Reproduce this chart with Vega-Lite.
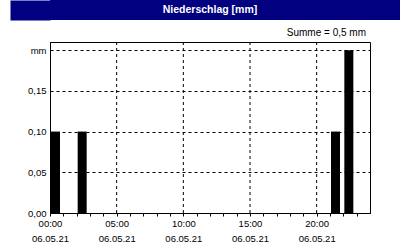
{
  "$schema": "https://vega.github.io/schema/vega-lite/v6.json",
  "background": "white",
  "padding": 0,
  "spacing": 7,
  "config": {
    "font": "Liberation Sans",
    "view": {"stroke": null},
    "axis": {"labelFont": "Liberation Sans", "labelColor": "black", "labelFontSize": 9.5, "domainColor": "black", "tickColor": "black", "gridColor": "black", "gridDash": [3, 3]}
  },
  "vconcat": [
    {
      "width": 360,
      "height": 20,
      "view": {"fill": "#000080", "stroke": null},
      "data": {"values": [{"label": "Niederschlag [mm]"}]},
      "mark": {"type": "text", "color": "white", "fontWeight": "bold", "fontSize": 10.5, "font": "Liberation Sans", "baseline": "middle", "align": "center", "dx": -20},
      "encoding": {
        "text": {"field": "label", "type": "nominal"},
        "y": {
          "datum": "Niederschlag [mm]", "type": "nominal",
          "axis": {"title": null, "labels": false, "domain": false, "grid": false, "ticks": true, "tickSize": 40, "tickWidth": 20, "tickColor": "#000080", "tickCap": "butt", "minExtent": 40, "maxExtent": 40}
        }
      }
    },
    {
      "width": 320,
      "height": 171,
      "view": {"stroke": "black", "strokeWidth": 1},
      "title": {"text": "Summe = 0,5 mm", "anchor": "end", "frame": "group", "fontSize": 10, "fontWeight": "normal", "color": "black", "offset": 4, "dx": -4, "font": "Liberation Sans"},
      "layer": [
        {
          "data": {"values": [
            {"start": "2021-05-06T05:00:00"},
            {"start": "2021-05-06T10:00:00"},
            {"start": "2021-05-06T15:00:00"},
            {"start": "2021-05-06T20:00:00"}
          ]},
          "mark": {"type": "rule", "color": "black", "strokeDash": [3, 3], "strokeWidth": 1},
          "encoding": {
            "x": {
              "field": "start", "type": "temporal",
              "scale": {"domain": ["2021-05-06T00:00:00", "2021-05-07T00:00:00"]},
              "axis": {
                "title": null,
                "values": [
                  {"year": 2021, "month": 5, "date": 6, "hours": 0}, {"year": 2021, "month": 5, "date": 6, "hours": 1},
                  {"year": 2021, "month": 5, "date": 6, "hours": 2}, {"year": 2021, "month": 5, "date": 6, "hours": 3},
                  {"year": 2021, "month": 5, "date": 6, "hours": 4}, {"year": 2021, "month": 5, "date": 6, "hours": 5},
                  {"year": 2021, "month": 5, "date": 6, "hours": 6}, {"year": 2021, "month": 5, "date": 6, "hours": 7},
                  {"year": 2021, "month": 5, "date": 6, "hours": 8}, {"year": 2021, "month": 5, "date": 6, "hours": 9},
                  {"year": 2021, "month": 5, "date": 6, "hours": 10}, {"year": 2021, "month": 5, "date": 6, "hours": 11},
                  {"year": 2021, "month": 5, "date": 6, "hours": 12}, {"year": 2021, "month": 5, "date": 6, "hours": 13},
                  {"year": 2021, "month": 5, "date": 6, "hours": 14}, {"year": 2021, "month": 5, "date": 6, "hours": 15},
                  {"year": 2021, "month": 5, "date": 6, "hours": 16}, {"year": 2021, "month": 5, "date": 6, "hours": 17},
                  {"year": 2021, "month": 5, "date": 6, "hours": 18}, {"year": 2021, "month": 5, "date": 6, "hours": 19},
                  {"year": 2021, "month": 5, "date": 6, "hours": 20}, {"year": 2021, "month": 5, "date": 6, "hours": 21},
                  {"year": 2021, "month": 5, "date": 6, "hours": 22}, {"year": 2021, "month": 5, "date": 6, "hours": 23}
                ],
                "tickSize": 3,
                "labelPadding": 2,
                "labelFlush": false,
                "labelOverlap": false,
                "labelLineHeight": 15,
                "labelExpr": "hours(datum.value) % 5 == 0 ? [timeFormat(datum.value, '%H:%M'), timeFormat(datum.value, '%d.%m.%y')] : ''",
                "grid": false
              }
            }
          }
        },
        {
          "data": {"values": [
            {"start": "2021-05-06T00:00:00", "end": "2021-05-06T00:45:00", "mm": 0.1},
            {"start": "2021-05-06T02:00:00", "end": "2021-05-06T02:45:00", "mm": 0.1},
            {"start": "2021-05-06T21:00:00", "end": "2021-05-06T21:45:00", "mm": 0.1},
            {"start": "2021-05-06T22:00:00", "end": "2021-05-06T22:45:00", "mm": 0.2}
          ]},
          "mark": {"type": "bar", "color": "black", "xOffset": 1},
          "encoding": {
            "x": {
              "field": "start", "type": "temporal",
              "scale": {"domain": ["2021-05-06T00:00:00", "2021-05-07T00:00:00"]},
              "axis": {
                "title": null,
                "values": [
                  {"year": 2021, "month": 5, "date": 6, "hours": 0}, {"year": 2021, "month": 5, "date": 6, "hours": 1},
                  {"year": 2021, "month": 5, "date": 6, "hours": 2}, {"year": 2021, "month": 5, "date": 6, "hours": 3},
                  {"year": 2021, "month": 5, "date": 6, "hours": 4}, {"year": 2021, "month": 5, "date": 6, "hours": 5},
                  {"year": 2021, "month": 5, "date": 6, "hours": 6}, {"year": 2021, "month": 5, "date": 6, "hours": 7},
                  {"year": 2021, "month": 5, "date": 6, "hours": 8}, {"year": 2021, "month": 5, "date": 6, "hours": 9},
                  {"year": 2021, "month": 5, "date": 6, "hours": 10}, {"year": 2021, "month": 5, "date": 6, "hours": 11},
                  {"year": 2021, "month": 5, "date": 6, "hours": 12}, {"year": 2021, "month": 5, "date": 6, "hours": 13},
                  {"year": 2021, "month": 5, "date": 6, "hours": 14}, {"year": 2021, "month": 5, "date": 6, "hours": 15},
                  {"year": 2021, "month": 5, "date": 6, "hours": 16}, {"year": 2021, "month": 5, "date": 6, "hours": 17},
                  {"year": 2021, "month": 5, "date": 6, "hours": 18}, {"year": 2021, "month": 5, "date": 6, "hours": 19},
                  {"year": 2021, "month": 5, "date": 6, "hours": 20}, {"year": 2021, "month": 5, "date": 6, "hours": 21},
                  {"year": 2021, "month": 5, "date": 6, "hours": 22}, {"year": 2021, "month": 5, "date": 6, "hours": 23}
                ],
                "tickSize": 3,
                "labelPadding": 2,
                "labelFlush": false,
                "labelOverlap": false,
                "labelLineHeight": 15,
                "labelExpr": "hours(datum.value) % 5 == 0 ? [timeFormat(datum.value, '%H:%M'), timeFormat(datum.value, '%d.%m.%y')] : ''",
                "grid": false
              }
            },
            "x2": {"field": "end"},
            "y": {
              "field": "mm", "type": "quantitative",
              "scale": {"domain": [0, 0.21], "nice": false},
              "axis": {
                "title": null,
                "values": [0, 0.05, 0.1, 0.15, 0.2],
                "ticks": false,
                "labelPadding": 4,
                "minExtent": 40,
                "maxExtent": 40,
                "labelExpr": "datum.value > 0.19 ? 'mm' : replace(format(datum.value, '.2f'), '.', ',')",
                "grid": true
              }
            },
            "y2": {"datum": 0}
          }
        }
      ]
    }
  ]
}
